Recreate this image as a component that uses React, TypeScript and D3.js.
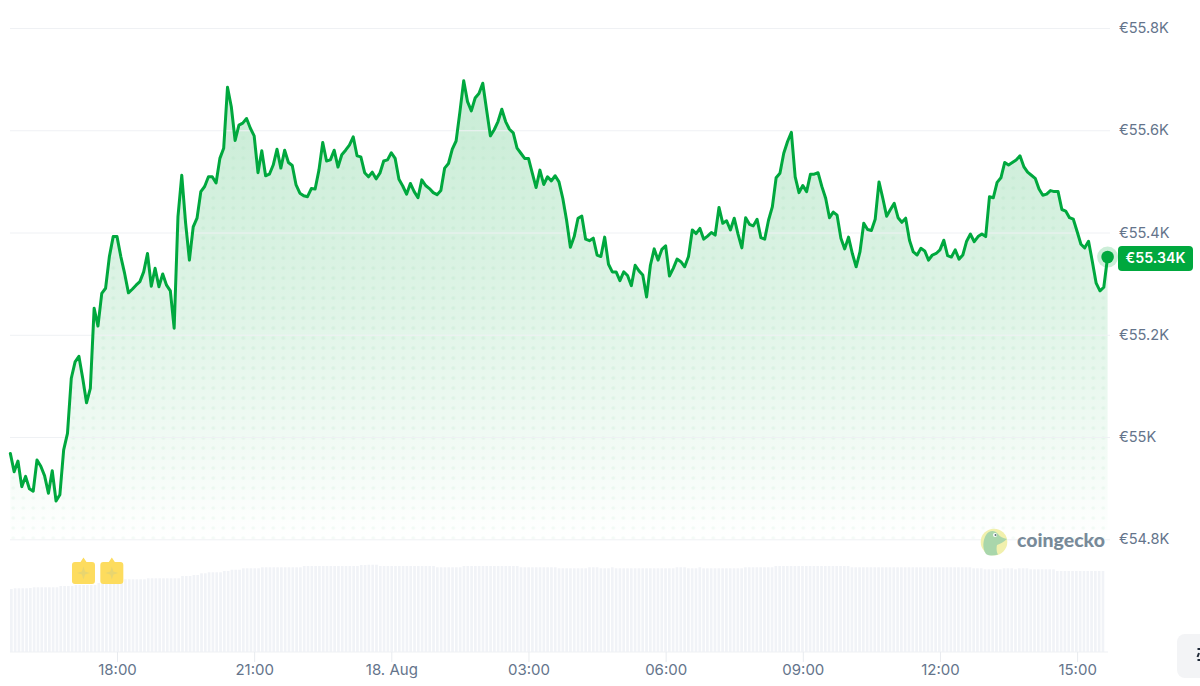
import React, { useEffect, useRef } from "react";
import * as d3 from "d3";

const WIDTH = 1200;
const HEIGHT = 686;

// 5 minute samples, first one at 15:40
const START_TIME = Date.UTC(2024, 7, 17, 15, 40);
const STEP_MS = 5 * 60 * 1000;

const prices = [
  54968, 54932, 54953, 54903, 54923, 54899, 54894, 54955, 54943, 54924,
  54890, 54934, 54875, 54887, 54975, 55007, 55115, 55147, 55158, 55115,
  55067, 55095, 55252, 55217, 55281, 55291, 55353, 55392, 55392, 55353,
  55320, 55282, 55289, 55297, 55304, 55323, 55359, 55295, 55330, 55294,
  55319, 55297, 55286, 55213, 55431, 55512, 55419, 55346, 55411, 55428,
  55480, 55490, 55509, 55509, 55497, 55545, 55565, 55684, 55646, 55580,
  55610, 55614, 55623, 55604, 55589, 55517, 55560, 55511, 55514, 55532,
  55563, 55526, 55561, 55537, 55531, 55493, 55477, 55472, 55470, 55486,
  55485, 55522, 55576, 55540, 55542, 55561, 55528, 55552, 55561, 55571,
  55587, 55550, 55548, 55517, 55509, 55518, 55505, 55516, 55540, 55542,
  55556, 55545, 55504, 55491, 55475, 55496, 55480, 55468, 55503, 55492,
  55486, 55478, 55474, 55482, 55526, 55535, 55563, 55579, 55636, 55697,
  55656, 55638, 55663, 55672, 55692, 55640, 55589, 55601, 55617, 55641,
  55617, 55602, 55595, 55565, 55555, 55545, 55545, 55516, 55488, 55522,
  55494, 55509, 55501, 55511, 55499, 55467, 55424, 55371, 55392, 55428,
  55432, 55387, 55384, 55389, 55356, 55353, 55391, 55338, 55323, 55323,
  55306, 55323, 55316, 55296, 55336, 55325, 55317, 55274, 55336, 55368,
  55346, 55367, 55374, 55315, 55330, 55348, 55343, 55333, 55353, 55405,
  55398, 55408, 55387, 55393, 55400, 55395, 55449, 55418, 55423, 55405,
  55428, 55397, 55370, 55429, 55416, 55413, 55426, 55390, 55387, 55424,
  55450, 55507, 55516, 55555, 55578, 55596, 55509, 55478, 55492, 55480,
  55514, 55514, 55517, 55490, 55467, 55429, 55440, 55434, 55389, 55368,
  55391, 55359, 55333, 55362, 55418, 55406, 55404, 55426, 55499, 55467,
  55432, 55445, 55457, 55429, 55420, 55428, 55385, 55362, 55356, 55369,
  55364, 55346, 55356, 55359, 55366, 55385, 55355, 55352, 55366, 55348,
  55356, 55383, 55397, 55382, 55392, 55397, 55392, 55470, 55468, 55498,
  55507, 55537, 55532, 55537, 55542, 55550, 55529, 55518, 55512, 55506,
  55485, 55473, 55475, 55482, 55480, 55480, 55445, 55442, 55429, 55426,
  55402, 55377, 55370, 55383, 55343, 55301, 55286, 55293, 55352,
];

// volume has no scale in the picture, so these are relative
const volumes = [
  63, 63.7, 63.7, 63.7, 63.7, 64, 64.7, 64.7, 64.7, 64.7,
  64.7, 64.7, 64.7, 66, 66, 66, 66, 67, 67, 67,
  67, 67, 67, 69, 69, 69, 69, 69, 72, 72,
  72.7, 72.7, 72.7, 72.7, 72.7, 72.7, 73.7, 73.7, 73.7, 73.7,
  73.7, 73.7, 73.7, 73.7, 73.7, 76, 76, 76, 77, 77,
  78.7, 78.7, 79.7, 79.7, 79.7, 79.7, 81, 81, 82.3, 82.3,
  82.3, 83.7, 83.7, 83.7, 83.7, 83.7, 84.7, 84.7, 84.7, 84.7,
  84.7, 84.7, 84.7, 84.7, 84.7, 84.7, 84.7, 86, 86, 86,
  86, 86, 86, 86, 86, 86, 86, 86, 86, 86,
  86, 86, 87, 87, 87.3, 87.3, 87.3, 86, 86, 86,
  86, 86, 86, 86, 86, 86, 86, 86, 86, 86,
  86, 86, 84.7, 84.7, 84.7, 84.7, 84.7, 84.7, 84.7, 86,
  86, 86, 86, 86, 86, 86, 86, 86, 86, 86,
  86, 86, 86, 86, 84.7, 84.7, 84.7, 84.7, 84.7, 84.7,
  84.7, 84.7, 84.7, 84.7, 83.7, 83.7, 83.7, 83.7, 83.7, 83.7,
  83.7, 83.7, 84.7, 84.7, 84.7, 83.7, 83.7, 83.7, 84.7, 83.7,
  83.7, 83.7, 83.7, 83.7, 83.7, 83.7, 83.7, 83.7, 83.7, 83.7,
  83.7, 83.7, 83.7, 83.7, 83.7, 84.7, 84.7, 84.7, 83.7, 83.7,
  83.7, 84.7, 83.7, 83.7, 83.7, 83.7, 83.7, 83.7, 83.7, 83.7,
  83.7, 83.7, 83.7, 84.7, 84.7, 84.7, 84.7, 84.7, 84.7, 84.7,
  84.7, 86, 86, 86, 86, 86, 86, 86, 86, 86,
  86, 86, 86, 86, 86, 86, 86, 86, 86, 86,
  86, 84.7, 84.7, 84.7, 84.7, 84.7, 84.7, 84.7, 84.7, 84.7,
  84.7, 84.7, 84.7, 84.7, 84.7, 84.7, 84.7, 84.7, 84.7, 84.7,
  84.7, 84.7, 84.7, 84.7, 84.7, 84.7, 84.7, 84.7, 84.7, 84.7,
  84.7, 84.7, 84.7, 83.7, 83.7, 83.7, 82.7, 82.7, 82.7, 82.7,
  82.7, 83.7, 83.7, 83.7, 82.7, 83.7, 83.7, 83.7, 82.7, 82.7,
  82.7, 82.7, 82.7, 82.7, 82.7, 81, 81, 81, 81, 81,
  81, 81, 81, 81, 81, 81, 81, 81,
];

const priceTicks = [54800, 55000, 55200, 55400, 55600, 55800];
const timeTicks = [2.3333, 5.3333, 8.3333, 11.3333, 14.3333, 17.3333, 20.3333, 23.3333];
const timeTickLabels = ["18:00", "21:00", "18. Aug", "03:00", "06:00", "09:00", "12:00", "15:00"];
const eventHours = [1.6, 2.22];
const lastPriceLabel = "€55.34K";

const GREEN = "#00a83e";
const LABEL = "#64748b";
const GRID = "#eff1f4";
const FONT = "Inter, sans-serif";

export default function App() {
  const svgRef = useRef<SVGSVGElement | null>(null);

  useEffect(() => {
    const svg = d3.select(svgRef.current);
    svg.selectAll("*").remove();

    const hourToDate = (h: number) => new Date(START_TIME + h * 3600 * 1000);
    const x = d3.scaleTime()
      .domain([new Date(START_TIME), new Date(START_TIME + (prices.length - 1) * STEP_MS)])
      .range([10.33, 1107.6]);
    const y = d3.scaleLinear().domain([54800, 55800]).range([539.3, 28]);
    const yVol = d3.scaleLinear().domain([0, 100]).range([652, 552]);
    const xVol = d3.scaleBand<number>()
      .domain(volumes.map((_, i) => i))
      .range([10, 1104.3])
      .paddingInner(0.3);

    const rows = prices.map((price, i) => ({ date: new Date(START_TIME + i * STEP_MS), price }));
    const last = rows[rows.length - 1];

    const defs = svg.append("defs");

    const areaGrad = defs.append("linearGradient")
      .attr("id", "areaFill")
      .attr("gradientUnits", "userSpaceOnUse")
      .attr("x1", 0).attr("x2", 0).attr("y1", 80).attr("y2", 539);
    [[0, 0.22], [0.5, 0.125], [0.85, 0.04], [1, 0]].forEach(([o, a]) => {
      areaGrad.append("stop").attr("offset", o).attr("stop-color", GREEN).attr("stop-opacity", a);
    });

    const dots = defs.append("pattern")
      .attr("id", "dots")
      .attr("patternUnits", "userSpaceOnUse")
      .attr("width", 10).attr("height", 10)
      .attr("x", 8.3).attr("y", 3);
    dots.append("circle").attr("cx", 5).attr("cy", 5).attr("r", 1.8).attr("fill", GREEN);

    const dotFade = defs.append("linearGradient")
      .attr("id", "dotFade")
      .attr("gradientUnits", "userSpaceOnUse")
      .attr("x1", 0).attr("x2", 0).attr("y1", 80).attr("y2", 539);
    [[0, 0.012], [0.25, 0.05], [0.6, 0.06], [1, 0.045]].forEach(([o, a]) => {
      dotFade.append("stop").attr("offset", o).attr("stop-color", "#fff").attr("stop-opacity", a);
    });
    defs.append("mask")
      .attr("id", "dotMask")
      .attr("maskUnits", "userSpaceOnUse")
      .attr("x", 0).attr("y", 0).attr("width", WIDTH).attr("height", HEIGHT)
      .append("rect")
      .attr("width", WIDTH).attr("height", HEIGHT).attr("fill", "url(#dotFade)");

    const area = d3.area<{ date: Date; price: number }>()
      .x(d => x(d.date))
      .y0(y(54800))
      .y1(d => y(d.price));
    const line = d3.line<{ date: Date; price: number }>()
      .x(d => x(d.date))
      .y(d => y(d.price));

    // volume bars
    svg.append("g")
      .selectAll("rect")
      .data(volumes)
      .join("rect")
      .attr("x", (_, i) => xVol(i)!)
      .attr("width", xVol.bandwidth())
      .attr("y", d => yVol(d))
      .attr("height", d => yVol(0) - yVol(d))
      .attr("fill", "#f1f3f7");

    svg.append("path").datum(rows).attr("d", area).attr("fill", "url(#areaFill)");
    svg.append("path").datum(rows).attr("d", area).attr("fill", "url(#dots)").attr("mask", "url(#dotMask)");

    // price axis, its ticks double as the grid
    const yAxis = svg.append("g")
      .attr("transform", "translate(1110,0)")
      .call(d3.axisRight(y)
        .tickValues(priceTicks)
        .tickSize(-1100)
        .tickPadding(9)
        .tickFormat(d => `€${+d / 1000}K`));
    yAxis.select(".domain").remove();
    yAxis.selectAll(".tick line").attr("stroke", GRID);
    yAxis.selectAll("text")
      .attr("fill", LABEL)
      .style("font-family", FONT)
      .style("font-size", "14.6px");

    const xAxis = svg.append("g")
      .attr("transform", "translate(0,652)")
      .call(d3.axisBottom(x)
        .tickValues(timeTicks.map(hourToDate))
        .tickSize(10)
        .tickPadding(2)
        .tickFormat((_, i) => timeTickLabels[i]));
    xAxis.select(".domain").attr("stroke", GRID).attr("d", "M10,0H1108");
    xAxis.selectAll(".tick line").attr("stroke", "#e8ebef");
    xAxis.selectAll("text")
      .attr("fill", LABEL)
      .style("font-family", FONT)
      .style("font-size", "15px");

    svg.append("path")
      .datum(rows)
      .attr("d", line)
      .attr("fill", "none")
      .attr("stroke", GREEN)
      .attr("stroke-width", 3)
      .attr("stroke-linejoin", "round")
      .attr("stroke-linecap", "round");

    // last price marker and label
    svg.append("circle").attr("cx", x(last.date)).attr("cy", y(last.price)).attr("r", 10.5)
      .attr("fill", GREEN).attr("opacity", 0.2);
    svg.append("circle").attr("cx", x(last.date)).attr("cy", y(last.price)).attr("r", 6.3)
      .attr("fill", GREEN);
    svg.append("rect").attr("x", 1118).attr("y", 246).attr("width", 75).attr("height", 25).attr("rx", 4)
      .attr("fill", GREEN);
    svg.append("text").attr("x", 1155.5).attr("y", y(last.price) + 1).attr("dy", "0.35em")
      .attr("text-anchor", "middle")
      .attr("fill", "#fff")
      .style("font-family", FONT)
      .style("font-size", "14.2px")
      .style("font-weight", 600)
      .text(lastPriceLabel);

    // event badges above the volume bars
    const badge = svg.append("g")
      .selectAll("g")
      .data(eventHours)
      .join("g")
      .attr("transform", d => `translate(${x(hourToDate(d))},573)`);
    badge.append("path")
      .attr("d", "M-8.5,-11 L-3,-11 L0,-15.5 L3,-11 L8.5,-11 Q11.5,-11 11.5,-8 L11.5,8 Q11.5,11 8.5,11 L-8.5,11 Q-11.5,11 -11.5,8 L-11.5,-8 Q-11.5,-11 -8.5,-11 Z")
      .attr("fill", "#fddc5e");
    badge.append("path")
      .attr("d", "M0,-6.5 L1.6,-1.6 L6.5,0 L1.6,1.6 L0,6.5 L-1.6,1.6 L-6.5,0 L-1.6,-1.6 Z")
      .attr("fill", "#e8d56f");

    // coingecko mark
    const logo = svg.append("g").attr("transform", "translate(994,542)");
    logo.append("circle").attr("r", 13.3).attr("fill", "#f1f0ad");
    logo.append("path")
      .attr("d", "M-8,12 C-12,6 -11,-2 -8,-7 C-5,-12 1,-12 4,-8 C6,-5 9,-4 13,-3 C10,0 6,2 3,3 C2,7 3,11 4,12.5 C0,14 -5,14 -8,12 Z")
      .attr("fill", "#a9d6ab");
    logo.append("circle").attr("cx", 1).attr("cy", -7).attr("r", 2).attr("fill", "#fff");
    logo.append("circle").attr("cx", 1.5).attr("cy", -7).attr("r", 1).attr("fill", "#5b6b78");
    svg.append("text")
      .attr("x", 1017).attr("y", 547)
      .attr("fill", "#788a99")
      .attr("textLength", 88)
      .attr("lengthAdjust", "spacingAndGlyphs")
      .style("font-family", "Lato, sans-serif")
      .style("font-size", "19px")
      .style("font-weight", 900)
      .text("coingecko");

    // corner button, cut off by the page edge
    svg.append("rect").attr("x", 1177).attr("y", 634).attr("width", 40).attr("height", 44).attr("rx", 8)
      .attr("fill", "#f3f4f6");
    svg.append("path")
      .attr("d", "M1197.5,649 H1201 M1197.5,660 H1201 M1199,653 L1197.5,657")
      .attr("fill", "none")
      .attr("stroke", "#1f2937")
      .attr("stroke-width", 2);
  }, []);

  return (
    <svg
      ref={svgRef}
      width={WIDTH}
      height={HEIGHT}
      style={{ position: "absolute", left: 0, top: 0, display: "block", background: "#fff" }}
    />
  );
}
